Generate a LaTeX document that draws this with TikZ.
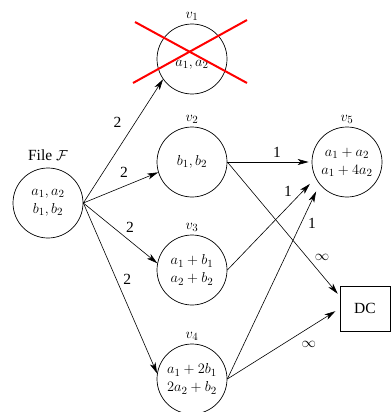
\documentclass[tikz,border=0pt]{standalone}
\usepackage{fontspec}
\setmainfont{Liberation Serif}
\usetikzlibrary{arrows.meta,calc}
\begin{document}
\begin{tikzpicture}[x=1pt,y=-1pt,
  font=\fontsize{15.5}{18}\selectfont,
  vert/.style={circle,draw,line width=0.7pt,minimum size=70pt,inner sep=0pt,align=center},
  conn/.style={line width=0.6pt,-{Stealth[length=11pt,width=6pt,inset=3pt]}},
  elab/.style={inner sep=0pt},
  cross/.style={red,line width=2pt},
  vlab/.style={inner sep=0pt,label distance=3pt}
]
\useasboundingbox (0,0) rectangle (391,412);
\node[vert,label={[vlab,label distance=7pt]above:File $\mathcal{F}$}] (F) at (48,203) {$a_1,a_2$\\$b_1,b_2$};
\node[vert,label={[vlab]above:$v_1$}] (v1) at (192,59) {\\$a_1,a_2$};
\node[vert,label={[vlab]above:$v_2$}] (v2) at (192,162) {$b_1,b_2$};
\node[vert,label={[vlab]above:$v_3$}] (v3) at (192,270) {$a_1+b_1$\\$a_2+b_2$};
\node[vert,label={[vlab]above:$v_4$}] (v4) at (192,379) {$a_1+2b_1$\\$2a_2+b_2$};
\node[vert,label={[vlab]above:$v_5$}] (v5) at (347,162) {$a_1+a_2$\\$a_1+4a_2$};
\node[draw,line width=0.7pt,minimum width=50pt,minimum height=45pt] (DC) at (365,308.5) {DC};

\draw[cross] (135,22) -- (247,83);
\draw[cross] (133,83) -- (247,20);

\draw[conn] (F.east) -- node[elab,pos=0.654,xshift=-18pt]{2} (v1.215);
\draw[conn] (F.east) -- node[elab,pos=0.543,yshift=14pt]{2} (v2.197);
\draw[conn] (F.east) -- node[elab,pos=0.63,yshift=14pt]{2} (v3.169);
\draw[conn] (F.east) -- node[elab,pos=0.446,xshift=11pt]{2} (v4.171);

\draw[conn,shorten >=3pt] (v2.east) -- node[elab,pos=0.59,yshift=10pt]{1} (v5.west);
\draw[conn,shorten >=3pt] (v2.east) -- node[elab,pos=0.71,xshift=15pt]{$\infty$} (DC.154);
\draw[conn,shorten >=8pt] (v3.east) -- node[elab,pos=0.687,yshift=15pt]{1} (v5.207);
\draw[conn,shorten >=8pt] (v4.east) -- node[elab,pos=0.80,xshift=11pt]{1} (v5.219);
\draw[conn,shorten >=5pt] (v4.east) -- node[elab,pos=0.726,yshift=-17pt]{$\infty$} (DC.west);
\end{tikzpicture}
\end{document}
